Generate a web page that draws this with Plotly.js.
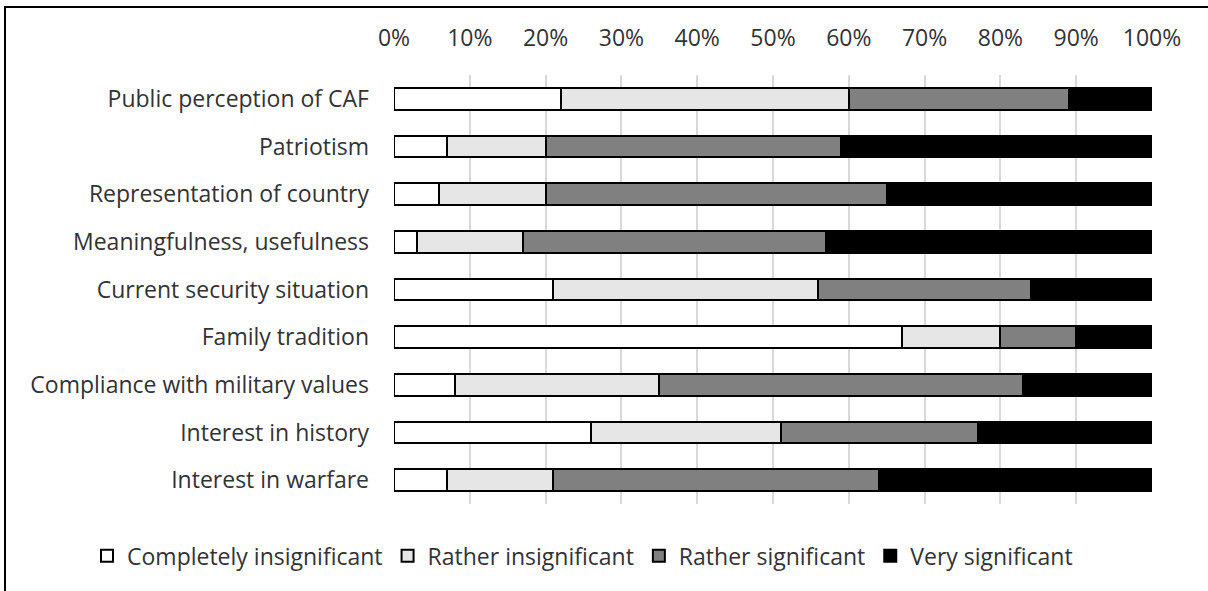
<!DOCTYPE html>
<html>
<head>
<meta charset="utf-8">
<script src="https://cdn.plot.ly/plotly-3.0.1.min.js"></script>
<style>
  html, body { margin: 0; padding: 0; background: #ffffff; }
  #wrap { position: relative; width: 1208px; height: 591px; overflow: hidden; }
  #chart { position: absolute; left: 0; top: 0; width: 1208px; height: 591px; }
  #frame { position: absolute; left: 4px; top: 6px; width: 1220px; height: 600px; border: 2px solid #000; pointer-events: none; }
</style>
</head>
<body>
<div id="wrap">
  <div id="chart"></div>
  <div id="frame"></div>
</div>
<script>
const categories = [
  "Public perception of CAF",
  "Patriotism",
  "Representation of country",
  "Meaningfulness, usefulness",
  "Current security situation",
  "Family tradition",
  "Compliance with military values",
  "Interest in history",
  "Interest in warfare"
];
const seriesNames = ["Completely insignificant", "Rather insignificant", "Rather significant", "Very significant"];
const completelyInsignificant = [22, 7, 6, 3, 21, 67, 8, 26, 7];
const ratherInsignificant     = [38, 13, 14, 14, 35, 13, 27, 25, 14];
const ratherSignificant       = [29, 39, 45, 40, 28, 10, 48, 26, 43];
const verySignificant         = [11, 41, 35, 43, 16, 10, 17, 23, 36];
const tickValues = [0, 10, 20, 30, 40, 50, 60, 70, 80, 90, 100];
const tickLabels = ["0%", "10%", "20%", "30%", "40%", "50%", "60%", "70%", "80%", "90%", "100%"];

const colors = ["#ffffff", "#e6e6e6", "#808080", "#000000"];
const allSeries = [completelyInsignificant, ratherInsignificant, ratherSignificant, verySignificant];

const traces = allSeries.map((vals, i) => ({
  type: "bar",
  orientation: "h",
  name: seriesNames[i],
  y: categories,
  x: vals,
  width: 0.46,
  marker: { color: colors[i], line: { color: "#000000", width: 2 } },
  hoverinfo: "x+y+name"
}));

const font = { family: "Open Sans, Noto Sans, sans-serif", size: 23, color: "#333333" };

const layout = {
  width: 1208,
  height: 591,
  barmode: "stack",
  paper_bgcolor: "#ffffff",
  plot_bgcolor: "#ffffff",
  margin: { l: 394, r: 56, t: 75, b: 87, pad: 0, autoexpand: false },
  font: font,
  showlegend: true,
  legend: {
    orientation: "h",
    x: -0.405,
    xanchor: "left",
    y: -0.121,
    yanchor: "middle",
    traceorder: "normal",
    font: font,
    itemwidth: 30
  },
  xaxis: {
    side: "top",
    range: [0, 100],
    tickvals: tickValues,
    ticktext: tickLabels,
    showgrid: true,
    gridcolor: "#d9d9d9",
    gridwidth: 2,
    zeroline: false,
    showline: false,
    ticks: "",
    ticklabelstandoff: 23,
    tickfont: font,
    fixedrange: true
  },
  yaxis: {
    type: "category",
    autorange: "reversed",
    showgrid: false,
    zeroline: false,
    showline: false,
    ticks: "",
    ticklabelstandoff: 24,
    tickfont: font,
    fixedrange: true
  }
};

Plotly.newPlot("chart", traces, layout, { displayModeBar: false, staticPlot: true });
</script>
</body>
</html>
